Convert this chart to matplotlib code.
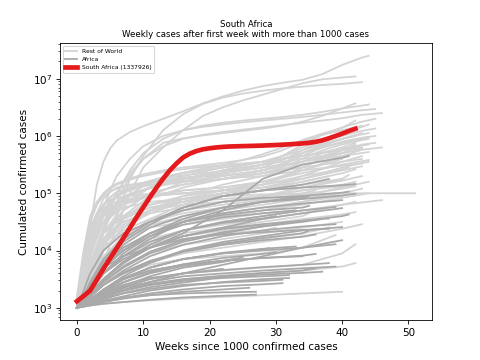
import numpy as np
import matplotlib
matplotlib.use("Agg")
import matplotlib.pyplot as plt

coarse_weeks = [0, 1, 2, 4, 7, 11, 16, 22, 28, 34, 40, 46, 50]
fine_weeks = [0, 1, 2, 3, 4, 5, 6, 8, 10, 13, 16, 19, 22, 25, 28, 31, 34, 37, 40, 43, 46, 50]

# Rest of World, read on the fine week grid:
# (last week, log10 of cumulated cases at grid weeks < last week, then at last week)
rest_of_world_fine = [
    (44, [3.0, 3.7, 4.4, 5.15, 5.55, 5.78, 5.92, 6.07, 6.17, 6.3, 6.43, 6.57, 6.69, 6.79, 6.87, 6.93, 6.98, 7.08, 7.24, 7.37, 7.40]),
    (43, [3.0, 3.2, 3.4, 3.7, 4.0, 4.3, 4.6, 5.25, 5.65, 6.1, 6.38, 6.56, 6.67, 6.74, 6.79, 6.83, 6.86, 6.89, 6.91, 6.94]),
    (42, [3.0, 3.15, 3.3, 3.55, 3.8, 4.1, 4.4, 5.0, 5.45, 5.8, 6.1, 6.35, 6.5, 6.62, 6.72, 6.82, 6.92, 6.99, 7.02, 7.04]),
    (42, [3.0, 3.3, 3.6, 3.95, 4.3, 4.6, 4.85, 5.3, 5.6, 5.88, 5.96, 6.01, 6.05, 6.09, 6.13, 6.18, 6.25, 6.35, 6.48, 6.57]),
    (44, [3.0, 3.3, 3.6, 4.0, 4.4, 4.75, 5.0, 5.4, 5.7, 5.95, 6.1, 6.18, 6.23, 6.27, 6.3, 6.33, 6.37, 6.42, 6.48, 6.53, 6.55]),
    (45, [3.1, 3.6, 4.0, 4.4, 4.75, 5.05, 5.3, 5.6, 5.82, 6.0, 6.1, 6.16, 6.2, 6.24, 6.27, 6.3, 6.33, 6.37, 6.41, 6.45, 6.47]),
    (46, [3.0, 3.3, 3.65, 4.0, 4.35, 4.7, 5.0, 5.35, 5.6, 5.82, 5.95, 6.02, 6.07, 6.11, 6.15, 6.19, 6.23, 6.27, 6.31, 6.37, 6.40]),
    (42, [3.0, 3.5, 4.0, 4.4, 4.65, 4.82, 4.94, 5.08, 5.18, 5.28, 5.36, 5.43, 5.49, 5.58, 5.68, 5.8, 5.93, 6.04, 6.14, 6.27]),
    (45, [3.0, 3.5, 4.0, 4.35, 4.6, 4.8, 4.95, 5.07, 5.18, 5.28, 5.35, 5.4, 5.45, 5.5, 5.55, 5.65, 5.8, 5.92, 6.0, 6.09, 6.13]),
    (44, [3.0, 3.5, 4.1, 4.45, 4.7, 4.86, 4.97, 5.1, 5.18, 5.26, 5.31, 5.35, 5.38, 5.43, 5.5, 5.6, 5.7, 5.8, 5.88, 5.95, 5.98]),
    (45, [3.0, 3.6, 4.1, 4.45, 4.7, 4.85, 4.96, 5.08, 5.16, 5.23, 5.27, 5.3, 5.34, 5.42, 5.5, 5.65, 5.85, 6.02, 6.15, 6.25, 6.3]),
    (44, [3.1, 3.7, 4.3, 4.6, 4.8, 4.93, 5.02, 5.1, 5.16, 5.22, 5.27, 5.3, 5.34, 5.4, 5.45, 5.58, 5.75, 5.92, 6.05, 6.16, 6.2]),
    (43, [3.0, 3.5, 4.1, 4.45, 4.7, 4.85, 4.95, 5.05, 5.12, 5.18, 5.2, 5.25, 5.3, 5.35, 5.4, 5.52, 5.7, 5.85, 5.95, 6.05]),
    (42, [3.0, 3.4, 3.9, 4.25, 4.5, 4.7, 4.82, 4.95, 5.05, 5.15, 5.25, 5.33, 5.4, 5.48, 5.55, 5.65, 5.75, 5.87, 5.95, 6.0]),
    (44, [3.0, 3.6, 4.2, 4.55, 4.8, 4.92, 5.02, 5.1, 5.14, 5.17, 5.2, 5.22, 5.25, 5.3, 5.35, 5.45, 5.6, 5.75, 5.85, 5.93, 5.95]),
    (43, [3.2, 4.0, 4.6, 4.85, 5.0, 5.1, 5.17, 5.26, 5.33, 5.4, 5.45, 5.49, 5.53, 5.58, 5.64, 5.75, 5.9, 6.02, 6.1, 6.18]),
    (44, [3.1, 3.9, 4.5, 4.8, 4.98, 5.08, 5.15, 5.24, 5.3, 5.37, 5.42, 5.46, 5.49, 5.52, 5.55, 5.6, 5.7, 5.82, 5.95, 6.03, 6.05]),
    (42, [3.0, 3.7, 4.3, 4.65, 4.9, 5.02, 5.1, 5.15, 5.18, 5.2, 5.22, 5.23, 5.25, 5.28, 5.3, 5.4, 5.55, 5.7, 5.8, 5.88]),
    (45, [3.1, 3.9, 4.5, 4.8, 4.95, 5.03, 5.08, 5.14, 5.18, 5.22, 5.26, 5.29, 5.31, 5.35, 5.4, 5.5, 5.65, 5.8, 5.9, 5.97, 6.0]),
    (41, [3.0, 3.6, 4.1, 4.4, 4.6, 4.72, 4.8, 4.88, 4.93, 4.97, 5.0, 5.02, 5.05, 5.1, 5.15, 5.28, 5.45, 5.6, 5.7, 5.75]),
    (45, [3.0, 3.6, 4.2, 4.5, 4.7, 4.8, 4.85, 4.9, 4.95, 4.98, 5.05, 5.08, 5.1, 5.15, 5.2, 5.3, 5.45, 5.6, 5.75, 5.85, 5.88]),
    (46, [3.1, 3.8, 4.4, 4.65, 4.8, 4.88, 4.92, 4.95, 4.98, 5.0, 5.05, 5.07, 5.1, 5.15, 5.2, 5.28, 5.4, 5.52, 5.65, 5.76, 5.8]),
]

# Rest of World, read on the coarse week grid
rest_of_world_coarse = [
    (44, [3.0, 3.4, 3.8, 4.4, 4.9, 5.2, 5.35, 5.45, 5.55, 5.65, 5.78, 5.85]),
    (44, [3.0, 3.5, 4.0, 4.5, 4.9, 5.1, 5.25, 5.35, 5.45, 5.55, 5.65, 5.72]),
    (43, [3.0, 3.3, 3.7, 4.3, 4.7, 5.0, 5.15, 5.25, 5.35, 5.45, 5.55, 5.60]),
    (43, [3.0, 3.4, 3.8, 4.3, 4.6, 4.8, 4.95, 5.05, 5.15, 5.25, 5.4, 5.47]),
    (43, [3.0, 3.3, 3.6, 4.0, 4.4, 4.7, 4.9, 5.0, 5.05, 5.1, 5.22, 5.30]),
    (42, [3.0, 3.2, 3.4, 3.8, 4.2, 4.5, 4.7, 4.85, 4.95, 5.05, 5.15, 5.20]),
    (46, [3.0, 3.2, 3.4, 3.7, 4.0, 4.2, 4.35, 4.45, 4.55, 4.65, 4.8, 4.88]),
    (42, [3.0, 3.1, 3.3, 3.6, 3.9, 4.1, 4.25, 4.35, 4.45, 4.55, 4.63, 4.67]),
    (43, [3.0, 3.1, 3.2, 3.4, 3.6, 3.8, 3.95, 4.05, 4.15, 4.25, 4.38, 4.46]),
    (42, [3.0, 3.05, 3.1, 3.2, 3.35, 3.5, 3.6, 3.65, 3.7, 3.75, 3.95, 4.11]),
    (42, [3.0, 3.05, 3.1, 3.2, 3.3, 3.4, 3.5, 3.55, 3.6, 3.65, 3.72, 3.78]),
    (40, [3.0, 3.02, 3.04, 3.07, 3.1, 3.13, 3.16, 3.19, 3.22, 3.25, 3.28]),
    (51, [3.0, 3.4, 3.8, 4.3, 4.6, 4.8, 4.9, 4.95, 4.98, 4.99, 5.0, 5.0, 5.0, 5.0]),
    (39, [3.0, 3.1, 3.25, 3.45, 3.6, 3.75, 3.85, 3.9, 3.95, 4.05, 4.27]),
    (43, [3.0, 3.3, 3.7, 4.3, 4.8, 5.1, 5.3, 5.45, 5.55, 5.65, 5.75, 5.8]),
    (42, [3.0, 3.2, 3.5, 4.1, 4.6, 4.95, 5.2, 5.4, 5.5, 5.6, 5.7, 5.75]),
    (41, [3.0, 3.3, 3.6, 4.2, 4.7, 5.0, 5.15, 5.25, 5.35, 5.5, 5.62, 5.65]),
    (40, [3.0, 3.5, 4.0, 4.5, 4.8, 4.95, 5.0, 5.05, 5.15, 5.4, 5.6]),
    (44, [3.0, 3.3, 3.6, 4.0, 4.4, 4.7, 4.9, 5.05, 5.2, 5.35, 5.5, 5.58]),
    (43, [3.0, 3.2, 3.5, 4.0, 4.4, 4.7, 4.95, 5.15, 5.3, 5.4, 5.48, 5.52]),
    (42, [3.0, 3.4, 3.8, 4.3, 4.6, 4.75, 4.85, 4.95, 5.05, 5.2, 5.35, 5.42]),
    (41, [3.0, 3.3, 3.7, 4.2, 4.5, 4.65, 4.75, 4.85, 4.95, 5.1, 5.25, 5.32]),
    (40, [3.0, 3.3, 3.6, 4.1, 4.45, 4.7, 4.85, 4.95, 5.05, 5.15, 5.25]),
    (38, [3.0, 3.25, 3.55, 4.0, 4.4, 4.65, 4.85, 5.0, 5.1, 5.2, 5.3]),
    (44, [3.0, 3.5, 4.1, 4.6, 4.85, 4.95, 5.0, 5.05, 5.1, 5.25, 5.45, 5.55]),
    (43, [3.0, 3.4, 3.9, 4.5, 4.75, 4.85, 4.9, 4.95, 5.05, 5.3, 5.55, 5.65]),
    (42, [3.0, 3.2, 3.4, 3.8, 4.2, 4.5, 4.7, 4.85, 4.95, 5.05, 5.12, 5.16]),
    (41, [3.0, 3.15, 3.35, 3.7, 4.05, 4.3, 4.5, 4.65, 4.75, 4.85, 4.95, 5.0]),
    (43, [3.0, 3.3, 3.6, 4.0, 4.3, 4.45, 4.55, 4.6, 4.7, 4.85, 5.0, 5.08]),
    (44, [3.0, 3.25, 3.5, 3.9, 4.2, 4.4, 4.5, 4.6, 4.7, 4.8, 4.92, 5.0]),
    (39, [3.0, 3.2, 3.45, 3.85, 4.2, 4.45, 4.6, 4.7, 4.8, 4.9, 5.0]),
    (37, [3.0, 3.3, 3.6, 4.05, 4.35, 4.55, 4.7, 4.8, 4.88, 4.95, 5.02]),
    (36, [3.0, 3.35, 3.7, 4.2, 4.55, 4.75, 4.85, 4.9, 4.95, 5.0, 5.05]),
    (42, [3.0, 3.5, 4.0, 4.6, 4.95, 5.1, 5.2, 5.3, 5.4, 5.55, 5.75, 5.85]),
    (43, [3.0, 3.25, 3.55, 4.1, 4.55, 4.9, 5.1, 5.25, 5.4, 5.55, 5.7, 5.78]),
    (41, [3.0, 3.15, 3.35, 3.75, 4.2, 4.55, 4.8, 5.0, 5.15, 5.3, 5.42, 5.45]),
    (44, [3.0, 3.2, 3.5, 3.9, 4.25, 4.5, 4.65, 4.75, 4.85, 4.95, 5.1, 5.2]),
    (42, [3.0, 3.3, 3.65, 4.15, 4.5, 4.7, 4.8, 4.85, 4.9, 4.98, 5.08, 5.12]),
    (38, [3.0, 3.1, 3.2, 3.4, 3.6, 3.8, 3.95, 4.1, 4.2, 4.3, 4.4]),
    (40, [3.0, 3.1, 3.25, 3.5, 3.75, 3.95, 4.1, 4.2, 4.3, 4.4, 4.5]),
    (42, [3.0, 3.15, 3.3, 3.6, 3.9, 4.15, 4.35, 4.5, 4.6, 4.7, 4.8, 4.85]),
    (35, [3.0, 3.1, 3.3, 3.6, 3.9, 4.15, 4.3, 4.4, 4.5, 4.6, 4.65]),
    (33, [3.0, 3.2, 3.4, 3.75, 4.05, 4.3, 4.45, 4.55, 4.65, 4.7]),
    (30, [3.0, 3.15, 3.3, 3.6, 3.85, 4.05, 4.2, 4.3, 4.35, 4.4]),
]

# Africa (without South Africa), coarse week grid
africa = [
    (41, [3.0, 3.2, 3.4, 3.7, 3.9, 4.05, 4.3, 4.7, 5.25, 5.5, 5.62, 5.65]),
    (38, [3.0, 3.3, 3.6, 4.0, 4.3, 4.5, 4.75, 4.95, 5.05, 5.15, 5.25]),
    (42, [3.0, 3.2, 3.45, 3.8, 4.15, 4.45, 4.75, 4.95, 5.05, 5.1, 5.14, 5.16]),
    (42, [3.0, 3.15, 3.35, 3.7, 4.0, 4.3, 4.55, 4.75, 4.85, 4.9, 4.96, 4.99]),
    (40, [3.0, 3.1, 3.25, 3.5, 3.8, 4.05, 4.25, 4.4, 4.55, 4.65, 4.74]),
    (34, [3.0, 3.2, 3.45, 3.85, 4.2, 4.5, 4.7, 4.85, 4.92, 4.95]),
    (40, [3.0, 3.1, 3.2, 3.4, 3.6, 3.8, 4.0, 4.15, 4.25, 4.35, 4.41]),
    (38, [3.0, 3.15, 3.3, 3.6, 3.85, 4.05, 4.2, 4.28, 4.32, 4.36, 4.38]),
    (39, [3.0, 3.05, 3.15, 3.3, 3.5, 3.7, 3.85, 3.95, 4.0, 4.05, 4.11]),
    (36, [3.0, 3.05, 3.15, 3.3, 3.5, 3.65, 3.75, 3.82, 3.87, 3.91, 3.94]),
    (39, [3.0, 3.05, 3.1, 3.2, 3.35, 3.45, 3.55, 3.6, 3.65, 3.69, 3.72]),
    (37, [3.0, 3.05, 3.1, 3.2, 3.3, 3.4, 3.48, 3.54, 3.58, 3.61, 3.63]),
    (32, [3.0, 3.03, 3.06, 3.12, 3.2, 3.3, 3.38, 3.45, 3.5, 3.52]),
    (31, [3.0, 3.03, 3.06, 3.1, 3.17, 3.25, 3.32, 3.38, 3.41, 3.43]),
    (27, [3.0, 3.02, 3.04, 3.07, 3.1, 3.14, 3.18, 3.21, 3.23]),
    (41, [3.0, 3.15, 3.3, 3.6, 3.9, 4.2, 4.5, 4.7, 4.85, 4.95, 5.01, 5.03]),
    (39, [3.0, 3.1, 3.25, 3.5, 3.8, 4.1, 4.35, 4.5, 4.6, 4.7, 4.76]),
    (39, [3.0, 3.1, 3.2, 3.4, 3.65, 3.9, 4.1, 4.25, 4.35, 4.42, 4.46]),
    (34, [3.0, 3.05, 3.12, 3.3, 3.5, 3.65, 3.75, 3.82, 3.87, 3.9]),
    (38, [3.0, 3.05, 3.12, 3.25, 3.4, 3.52, 3.6, 3.66, 3.71, 3.75, 3.78]),
    (36, [3.0, 3.04, 3.1, 3.2, 3.32, 3.42, 3.5, 3.56, 3.61, 3.65, 3.69]),
    (32, [3.0, 3.05, 3.1, 3.2, 3.3, 3.4, 3.47, 3.52, 3.55, 3.57]),
    (31, [3.0, 3.04, 3.08, 3.15, 3.25, 3.33, 3.4, 3.44, 3.47, 3.49]),
    (27, [3.0, 3.04, 3.08, 3.13, 3.18, 3.22, 3.25, 3.27, 3.28]),
    (35, [3.0, 3.2, 3.4, 3.75, 4.05, 4.3, 4.5, 4.62, 4.7, 4.75, 4.78]),
    (33, [3.0, 3.15, 3.35, 3.7, 4.0, 4.25, 4.45, 4.58, 4.65, 4.7]),
    (30, [3.0, 3.1, 3.3, 3.6, 3.9, 4.15, 4.35, 4.48, 4.56, 4.6]),
    (28, [3.0, 3.1, 3.25, 3.5, 3.8, 4.05, 4.25, 4.38, 4.45]),
    (41, [3.0, 3.1, 3.2, 3.45, 3.7, 3.95, 4.15, 4.3, 4.42, 4.52, 4.6, 4.63]),
    (36, [3.0, 3.08, 3.18, 3.4, 3.62, 3.82, 3.98, 4.1, 4.18, 4.24, 4.28]),
    (33, [3.0, 3.06, 3.14, 3.32, 3.52, 3.7, 3.85, 3.96, 4.03, 4.07]),
    (30, [3.0, 3.05, 3.12, 3.28, 3.45, 3.62, 3.76, 3.87, 3.94, 3.97]),
    (25, [3.0, 3.05, 3.12, 3.26, 3.44, 3.6, 3.73, 3.82, 3.88]),
    (22, [3.0, 3.05, 3.1, 3.22, 3.36, 3.5, 3.6, 3.68]),
    (38, [3.0, 3.1, 3.22, 3.48, 3.78, 4.05, 4.25, 4.38, 4.46, 4.52, 4.56]),
    (40, [3.0, 3.12, 3.28, 3.6, 3.95, 4.25, 4.5, 4.65, 4.75, 4.82, 4.88]),
    (37, [3.0, 3.08, 3.2, 3.45, 3.72, 3.98, 4.18, 4.32, 4.42, 4.5, 4.55]),
    (35, [3.0, 3.06, 3.14, 3.32, 3.55, 3.78, 3.98, 4.12, 4.22, 4.3, 4.35]),
    (29, [3.0, 3.06, 3.14, 3.3, 3.5, 3.7, 3.85, 3.95, 4.02, 4.04]),
    (24, [3.0, 3.04, 3.1, 3.22, 3.38, 3.55, 3.7, 3.8, 3.85]),
    (40, [3.0, 3.04, 3.09, 3.18, 3.3, 3.45, 3.6, 3.75, 3.9, 4.05, 4.18]),
    (35, [3.0, 3.15, 3.35, 3.7, 4.1, 4.4, 4.6, 4.75, 4.85, 4.92, 4.95]),
    (26, [3.0, 3.02, 3.05, 3.1, 3.16, 3.22, 3.28, 3.32, 3.35]),
    (20, [3.0, 3.04, 3.08, 3.16, 3.26, 3.36, 3.44, 3.5]),
]

# South Africa weekly cumulated cases
sa_weeks = list(range(43))
sa_cases = [1300, 1600, 2000, 3100, 4800, 7300, 11000, 16500, 25000, 38000,
            57000, 85000, 125000, 180000, 250000, 330000, 420000, 490000,
            545000, 585000, 610000, 630000, 645000, 655000, 660000, 665000,
            670000, 675000, 680000, 688000, 695000, 705000, 715000, 728000,
            742000, 760000, 790000, 840000, 910000, 1000000, 1100000,
            1220000, 1337926]

LIGHT = "#d3d3d3"
DARK = "#a9a9a9"
RED = "#e41a1c"


def series_xy(grid, end, vals):
    wk = [g for g in grid if g < end][:len(vals) - 1] + [end]
    v = vals[:len(wk)]
    return wk, 10 ** np.array(v)


fig, ax = plt.subplots(figsize=(6.4, 4.8), dpi=75)

first = True
for grid, group in ((fine_weeks, rest_of_world_fine), (coarse_weeks, rest_of_world_coarse)):
    for end, vals in group:
        x, y = series_xy(grid, end, vals)
        ax.plot(x, y, color=LIGHT, lw=1.7, label="Rest of World" if first else None)
        first = False

for i, (end, vals) in enumerate(africa):
    x, y = series_xy(coarse_weeks, end, vals)
    ax.plot(x, y, color=DARK, lw=1.7, label="Africa" if i == 0 else None)

ax.plot(sa_weeks, sa_cases, color=RED, lw=4.5,
        label="South Africa (%d)" % sa_cases[-1])

ax.set_yscale("log")
ax.set_xlabel("Weeks since 1000 confirmed cases")
ax.set_ylabel("Cumulated confirmed cases")
ax.set_title("South Africa\nWeekly cases after first week with more than 1000 cases",
             fontsize="small")
ax.legend(loc="upper left", fontsize="xx-small")

fig.savefig("out.png", dpi=75)
